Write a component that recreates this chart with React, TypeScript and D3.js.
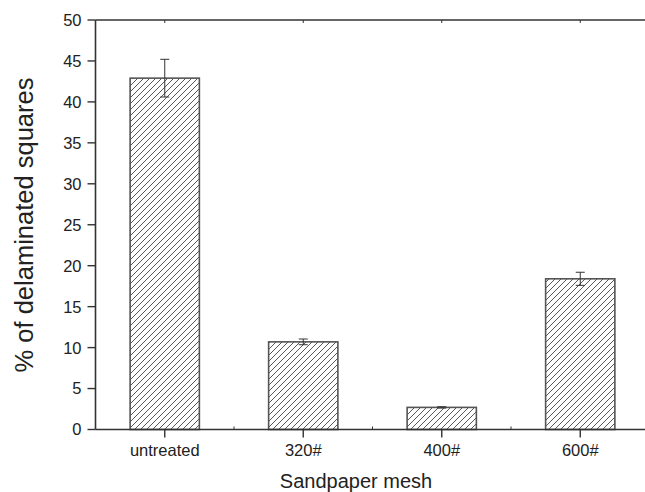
import React, { useRef, useEffect } from 'react';
import * as d3 from 'd3';

const categories = ['untreated', '320#', '400#', '600#'];
const values = [42.9, 10.7, 2.7, 18.4];
const errors = [2.3, 0.35, 0.08, 0.8];
const yTicks = [0, 5, 10, 15, 20, 25, 30, 35, 40, 45, 50];

const App = () => {
  const chart = useRef<SVGSVGElement | null>(null);

  useEffect(() => {
    const root = d3.select(chart.current);
    root.selectAll('*').remove();

    const W = 645;
    const H = 492;
    const left = 95.5;
    const right = 649.5;
    const top = 20;
    const bottom = 429.5;
    const ink = '#333';
    const font = "'Liberation Sans', Arial, sans-serif";

    const svg = root.attr('width', W).attr('height', H).style('background', '#fff');

    const defs = svg.append('defs');
    const pat = defs
      .append('pattern')
      .attr('id', 'hatch')
      .attr('patternUnits', 'userSpaceOnUse')
      .attr('width', 6)
      .attr('height', 6);
    pat
      .append('path')
      .attr('d', 'M-1,1 L1,-1 M0,6 L6,0 M5,7 L7,5')
      .attr('stroke', '#444')
      .attr('stroke-width', 0.9);

    const x = d3.scaleBand().domain(categories).range([left, right]);
    const y = d3.scaleLinear().domain([0, 50]).range([bottom, top]);

    const barW = x.bandwidth() / 2;
    const cx = (i: number) => x(categories[i])! + x.bandwidth() / 2;

    // bars
    svg
      .selectAll('rect.bar')
      .data(values)
      .enter()
      .append('rect')
      .attr('class', 'bar')
      .attr('x', (d, i) => cx(i) - barW / 2)
      .attr('y', (d) => y(d))
      .attr('width', barW)
      .attr('height', (d) => y(0) - y(d))
      .attr('fill', 'url(#hatch)')
      .attr('stroke', '#555')
      .attr('stroke-width', 1.6);

    // error bars
    const eb = svg
      .selectAll('g.err')
      .data(values)
      .enter()
      .append('g')
      .attr('class', 'err')
      .attr('stroke', ink)
      .attr('stroke-width', 1);
    eb.append('line')
      .attr('x1', (d, i) => cx(i))
      .attr('x2', (d, i) => cx(i))
      .attr('y1', (d, i) => y(d + errors[i]))
      .attr('y2', (d, i) => y(d - errors[i]));
    [1, -1].forEach((s) => {
      eb.append('line')
        .attr('x1', (d, i) => cx(i) - 4.5)
        .attr('x2', (d, i) => cx(i) + 4.5)
        .attr('y1', (d, i) => y(d + s * errors[i]))
        .attr('y2', (d, i) => y(d + s * errors[i]));
    });

    // frame: left, bottom, top
    const frame = svg.append('g').attr('stroke', ink).attr('stroke-width', 1.6);
    frame.append('line').attr('x1', left).attr('x2', left).attr('y1', top).attr('y2', bottom);
    frame.append('line').attr('x1', left).attr('x2', right).attr('y1', bottom).attr('y2', bottom);
    frame.append('line').attr('x1', left).attr('x2', right).attr('y1', top).attr('y2', top);

    // y ticks
    const yg = svg.append('g');
    yg.selectAll('line')
      .data(yTicks)
      .enter()
      .append('line')
      .attr('x1', left - 8)
      .attr('x2', left)
      .attr('y1', (d) => y(d))
      .attr('y2', (d) => y(d))
      .attr('stroke', ink)
      .attr('stroke-width', 1.4);
    yg.selectAll('text')
      .data(yTicks)
      .enter()
      .append('text')
      .attr('x', left - 14)
      .attr('y', (d) => y(d))
      .attr('dy', '0.36em')
      .attr('text-anchor', 'end')
      .attr('font-family', font)
      .attr('font-size', 16.5)
      .attr('fill', '#222')
      .text((d) => d);

    // x ticks
    const xg = svg.append('g');
    xg.selectAll('line.major')
      .data(categories)
      .enter()
      .append('line')
      .attr('class', 'major')
      .attr('x1', (d) => x(d)! + x.bandwidth() / 2)
      .attr('x2', (d) => x(d)! + x.bandwidth() / 2)
      .attr('y1', bottom)
      .attr('y2', bottom + 8)
      .attr('stroke', ink)
      .attr('stroke-width', 1.4);
    xg.selectAll('line.top')
      .data(categories)
      .enter()
      .append('line')
      .attr('class', 'top')
      .attr('x1', (d) => x(d)! + x.bandwidth() / 2)
      .attr('x2', (d) => x(d)! + x.bandwidth() / 2)
      .attr('y1', top)
      .attr('y2', top + 3)
      .attr('stroke', ink)
      .attr('stroke-width', 1);
    xg.selectAll('line.minor')
      .data(categories.slice(1))
      .enter()
      .append('line')
      .attr('class', 'minor')
      .attr('x1', (d) => x(d)!)
      .attr('x2', (d) => x(d)!)
      .attr('y1', bottom)
      .attr('y2', bottom - 3)
      .attr('stroke', ink)
      .attr('stroke-width', 1);
    xg.selectAll('text')
      .data(categories)
      .enter()
      .append('text')
      .attr('x', (d) => x(d)! + x.bandwidth() / 2)
      .attr('y', 456)
      .attr('text-anchor', 'middle')
      .attr('font-family', font)
      .attr('font-size', 16.5)
      .attr('fill', '#222')
      .text((d) => d);

    // axis titles
    svg
      .append('text')
      .attr('x', 356)
      .attr('y', 488)
      .attr('text-anchor', 'middle')
      .attr('font-family', font)
      .attr('font-size', 20)
      .attr('fill', '#222')
      .text('Sandpaper mesh');
    svg
      .append('text')
      .attr('transform', `translate(33, 225) rotate(-90)`)
      .attr('text-anchor', 'middle')
      .attr('font-family', font)
      .attr('font-size', 25.5)
      .attr('fill', '#222')
      .text('% of delaminated squares');
  }, []);

  return (
    <svg
      ref={chart}
      style={{ position: 'absolute', left: 0, top: 0, display: 'block', overflow: 'hidden' }}
    ></svg>
  );
};

export default App;
